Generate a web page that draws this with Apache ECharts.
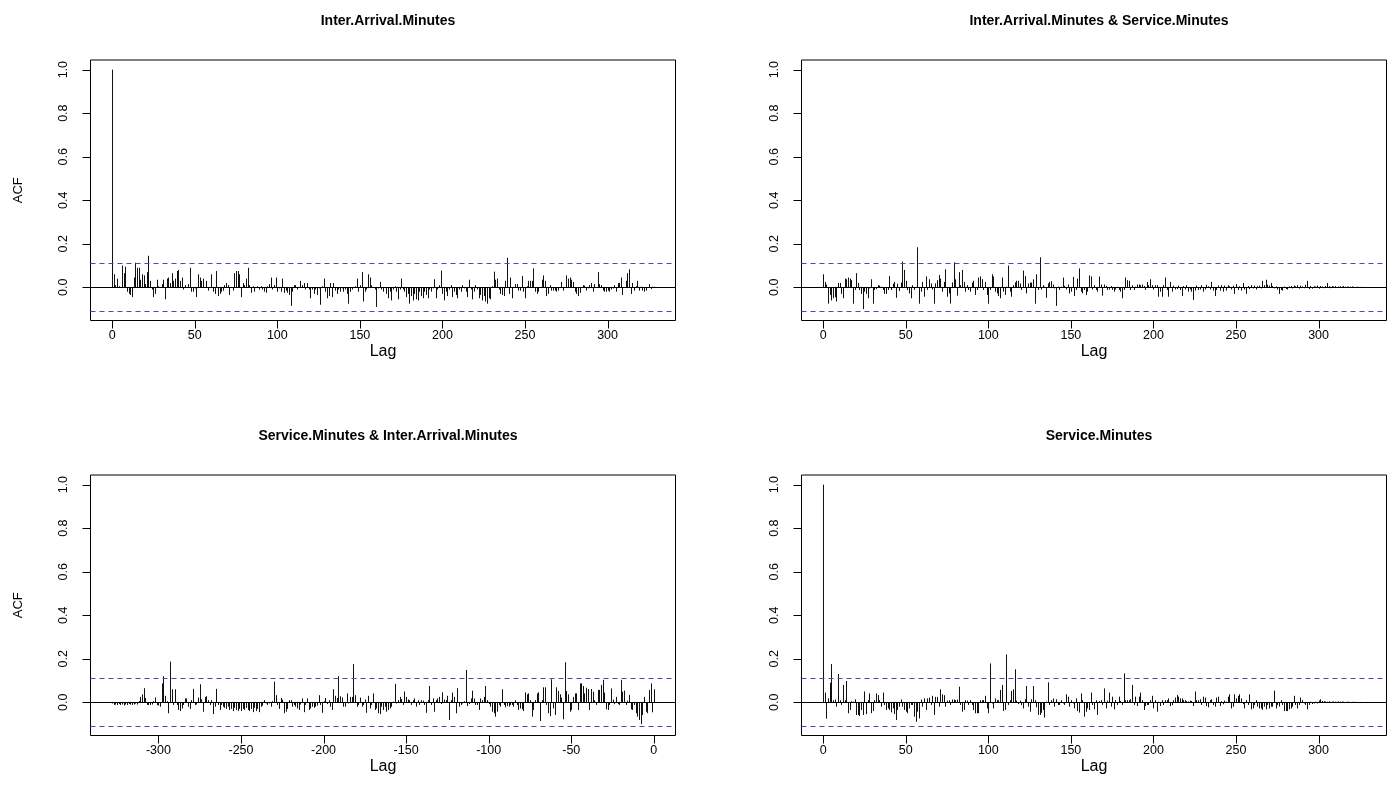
<!DOCTYPE html>
<html>
<head>
<meta charset="utf-8">
<script src="https://cdn.jsdelivr.net/npm/echarts@6/dist/echarts.min.js"></script>
<style>
  html, body { margin: 0; padding: 0; background: #fff; }
  #chart { width: 1393px; height: 804px; }
</style>
</head>
<body>
<div id="chart"></div>
<script>
// panel titles, in R's plot.acf order (row by row)
const panelTitles = [
  "Inter.Arrival.Minutes",
  "Inter.Arrival.Minutes & Service.Minutes",
  "Service.Minutes & Inter.Arrival.Minutes",
  "Service.Minutes"
];

const ciLimit = 0.108;           // 1.96 / sqrt(n)
const yTickValues = [0, 0.2, 0.4, 0.6, 0.8, 1.0];
const posLagTicks = [0, 50, 100, 150, 200, 250, 300];
const negLagTicks = [-300, -250, -200, -150, -100, -50, 0];

// ACF of Inter.Arrival.Minutes, lags 0..328
const acfInter = [
  1.0, 0.06, 0.01, 0.04, 0.005, 0.0, 0.1, 0.065, 0.095, -0.02,
  -0.03, -0.035, -0.045, 0.045, 0.113, 0.09, 0.09, 0.035, 0.06, 0.055,
  0.015, 0.07, 0.145, 0.03, -0.01, -0.045, -0.03, 0.035, 0.005, 0.0,
  0.015, 0.035, -0.055, 0.04, 0.045, 0.02, 0.065, 0.03, 0.04, 0.075,
  0.08, 0.03, 0.045, -0.01, 0.01, 0.0, 0.015, 0.09, -0.02, -0.02,
  -0.005, -0.045, 0.06, 0.045, 0.03, 0.04, 0.0, 0.03, -0.015, 0.0,
  0.06, -0.02, -0.03, 0.075, -0.04, -0.03, -0.02, -0.015, 0.01, 0.02,
  0.01, -0.035, 0.0, -0.015, 0.065, 0.075, 0.075, 0.06, -0.045, 0.02,
  0.01, 0.04, 0.09, 0.01, -0.025, 0.005, -0.02, 0.0, 0.005, -0.01,
  0.005, -0.01, -0.02, -0.025, 0.005, 0.015, 0.045, -0.01, 0.01, 0.045,
  -0.02, -0.005, -0.02, 0.04, -0.025, -0.015, -0.025, -0.035, -0.085, -0.02,
  0.01, 0.01, -0.01, 0.0, 0.03, 0.01, 0.02, -0.01, 0.02, -0.01,
  -0.05, -0.01, -0.03, -0.01, -0.035, -0.005, -0.08, 0.005, 0.04, -0.02,
  -0.05, -0.04, 0.02, -0.045, 0.02, -0.015, -0.03, -0.01, -0.02, -0.005,
  -0.02, -0.01, -0.03, -0.075, -0.02, -0.01, 0.0, 0.005, 0.04, -0.02,
  0.01, 0.07, -0.065, -0.02, -0.01, 0.06, 0.045, 0.01, 0.0, -0.01,
  -0.09, -0.005, 0.025, -0.01, -0.02, 0.0, -0.03, -0.05, -0.02, -0.06,
  -0.01, 0.005, -0.02, -0.055, -0.01, 0.04, -0.01, -0.02, -0.045, -0.03,
  -0.075, -0.04, -0.06, -0.03, -0.055, -0.06, -0.02, -0.04, -0.05, -0.02,
  -0.035, -0.05, -0.01, -0.02, -0.005, 0.037, -0.05, -0.01, 0.01, 0.077,
  -0.03, -0.06, -0.02, -0.04, -0.01, 0.01, -0.045, -0.02, -0.035, -0.05,
  -0.01, -0.02, 0.01, -0.005, -0.02, -0.045, 0.035, -0.01, -0.055, -0.02,
  0.01, -0.01, -0.05, -0.035, -0.06, -0.04, -0.065, -0.075, -0.05, -0.055,
  0.005, 0.072, 0.035, 0.04, -0.01, -0.03, -0.035, -0.04, 0.03, 0.136,
  -0.03, 0.045, -0.05, 0.0, 0.015, 0.015, -0.015, -0.015, 0.052, -0.02,
  -0.05, 0.005, 0.03, 0.03, 0.03, 0.087, -0.02, -0.03, -0.02, 0.0,
  0.035, 0.055, 0.03, -0.04, -0.03, 0.01, -0.015, -0.015, -0.015, -0.02,
  -0.015, 0.0, 0.025, -0.015, 0.0, 0.055, 0.04, 0.045, 0.035, 0.025,
  -0.02, -0.03, -0.04, -0.025, 0.0, 0.01, 0.008, -0.015, -0.005, 0.01,
  0.02, -0.02, 0.015, 0.0, 0.07, 0.015, 0.01, -0.015, -0.02, -0.02,
  -0.015, -0.02, -0.01, -0.005, 0.01, -0.02, 0.02, 0.02, 0.045, -0.035,
  0.0, 0.03, 0.065, 0.083, -0.03, 0.02, -0.015, 0.005, 0.03, -0.015,
  0.003, -0.015, -0.02, -0.015, 0.0, 0.015, -0.008, 0.003, 0.003
];

// cross-correlation Inter.Arrival & Service, lags 0..328
const ccfInterService = [
  0.06, 0.025, 0.013, -0.075, -0.035, -0.06, -0.05, -0.045, -0.065, 0.02,
  0.02, -0.03, -0.05, 0.04, 0.037, 0.045, 0.04, 0.033, -0.075, -0.012,
  0.065, 0.02, -0.012, -0.03, -0.1, -0.02, -0.03, -0.05, -0.005, 0.037,
  -0.075, -0.012, -0.008, 0.01, 0.008, 0.003, -0.012, -0.03, -0.03, -0.012,
  0.052, -0.012, 0.017, 0.025, -0.048, 0.017, -0.017, 0.022, 0.118, 0.08,
  0.03, -0.012, -0.028, -0.05, 0.01, -0.012, -0.002, 0.184, -0.075, -0.02,
  0.025, -0.043, 0.05, -0.012, 0.037, 0.018, -0.01, -0.075, 0.018, 0.033,
  0.057, 0.04, -0.02, 0.025, 0.083, -0.043, -0.028, -0.075, 0.023, 0.115,
  0.037, -0.038, 0.07, 0.01, 0.08, 0.025, -0.02, 0.01, -0.012, -0.02,
  0.022, 0.03, -0.035, -0.012, 0.045, 0.05, 0.037, -0.012, 0.025, -0.035,
  -0.075, -0.012, 0.06, 0.05, -0.02, -0.028, -0.04, -0.05, 0.045, -0.02,
  -0.035, 0.003, 0.1, -0.02, -0.043, 0.01, 0.023, 0.03, 0.03, 0.018,
  -0.012, 0.077, 0.052, -0.028, 0.018, 0.022, 0.022, 0.037, -0.075, 0.06,
  -0.012, 0.138, -0.01, 0.01, 0.003, -0.048, 0.018, 0.025, 0.028, 0.013,
  -0.005, -0.085, 0.003, -0.012, 0.003, 0.045, 0.007, -0.01, 0.013, -0.028,
  -0.02, 0.048, -0.04, -0.012, 0.04, 0.087, -0.02, -0.028, -0.012, -0.035,
  -0.02, 0.055, 0.05, -0.01, 0.01, -0.012, -0.02, 0.05, 0.013, -0.038,
  0.013, 0.007, -0.012, -0.01, 0.006, -0.012, -0.02, -0.01, 0.003, -0.012,
  -0.02, -0.05, -0.012, 0.045, 0.033, 0.03, -0.012, 0.01, -0.012, 0.003,
  0.013, 0.013, 0.01, 0.013, 0.006, -0.012, 0.025, 0.01, 0.037, 0.01,
  -0.01, 0.01, 0.01, -0.043, -0.02, -0.043, 0.01, 0.045, -0.012, -0.043,
  0.025, -0.02, 0.008, -0.01, -0.008, 0.008, -0.012, -0.04, 0.006, -0.01,
  0.01, -0.02, -0.01, -0.02, -0.058, -0.015, 0.008, -0.012, -0.01, 0.01,
  -0.02, -0.01, 0.012, 0.005, -0.01, 0.025, -0.015, -0.04, -0.012, 0.008,
  -0.015, 0.01, -0.02, 0.008, -0.015, 0.01, 0.005, -0.01, 0.008, -0.03,
  0.015, -0.012, 0.005, -0.015, 0.02, -0.01, -0.03, 0.006, -0.008, 0.01,
  -0.005, 0.008, -0.01, 0.005, 0.008, -0.005, 0.03, 0.01, 0.035, 0.012,
  0.008, 0.02, 0.006, -0.005, 0.004, -0.01, -0.03, -0.012, -0.015, 0.004,
  -0.008, -0.01, 0.004, 0.006, -0.005, 0.008, 0.005, 0.01, -0.006, 0.008,
  0.004, -0.004, 0.012, 0.03, -0.008, 0.006, -0.006, 0.005, 0.004, 0.008,
  -0.006, 0.006, 0.004, -0.004, 0.006, 0.02, 0.005, -0.004, 0.006, 0.004,
  0.006, -0.003, 0.004, 0.005, 0.003, 0.006, 0.003, 0.004, 0.003, 0.003,
  0.004, 0.003, 0.002, 0.003, 0.002, 0.002, 0.002, 0.001, 0.001
];

// cross-correlation Service & Inter.Arrival, lags -328..0
const ccfServiceInter = [
  -0.005, -0.012, -0.01, -0.012, -0.008, -0.012, -0.01, -0.014, -0.01, -0.012,
  -0.008, -0.01, -0.012, -0.01, -0.006, -0.01, 0.006, 0.025, 0.037, 0.065,
  0.02, -0.012, -0.012, -0.012, -0.01, 0.005, 0.022, -0.012, -0.015, -0.02,
  0.087, 0.12, 0.03, 0.005, -0.05, 0.187, 0.06, -0.012, 0.06, -0.012,
  -0.035, -0.04, -0.028, -0.012, 0.018, 0.018, -0.02, -0.03, 0.01, 0.062,
  -0.012, -0.01, 0.022, 0.083, 0.014, -0.043, 0.025, 0.028, 0.01, -0.012,
  0.01, -0.054, -0.02, 0.062, -0.012, -0.035, -0.012, -0.02, -0.025, -0.03,
  -0.02, -0.035, -0.03, -0.04, -0.025, -0.035, -0.04, -0.03, -0.04, -0.03,
  -0.035, -0.025, -0.035, -0.04, -0.03, -0.045, -0.025, -0.04, -0.03, -0.045,
  -0.02, -0.015, 0.01, -0.005, -0.012, -0.005, -0.02, 0.005, 0.095, 0.033,
  -0.012, -0.03, 0.02, 0.012, -0.05, -0.043, -0.03, 0.01, 0.01, -0.02,
  -0.012, -0.02, -0.028, -0.035, -0.01, 0.018, -0.045, -0.012, 0.018, -0.035,
  -0.028, -0.02, -0.025, -0.02, -0.015, 0.033, -0.012, -0.048, 0.005, 0.02,
  -0.008, 0.01, -0.02, -0.035, 0.06, 0.03, 0.02, 0.12, 0.028, 0.022,
  -0.02, -0.02, 0.041, -0.005, 0.025, 0.025, 0.176, 0.033, -0.02, -0.012,
  0.022, -0.02, -0.012, 0.013, -0.048, 0.03, -0.028, -0.012, 0.041, -0.035,
  -0.028, -0.05, -0.054, -0.02, -0.035, -0.02, -0.043, -0.035, -0.028, -0.02,
  0.003, 0.085, -0.005, 0.01, 0.025, 0.015, -0.012, 0.05, 0.025, 0.013,
  0.01, -0.012, 0.01, 0.018, -0.02, 0.01, -0.012, 0.01, 0.008, -0.012,
  -0.048, 0.01, 0.075, -0.012, 0.018, -0.043, 0.01, 0.018, 0.025, -0.008,
  0.046, 0.013, 0.01, 0.03, -0.081, 0.01, 0.045, 0.025, -0.05, 0.065,
  -0.02, -0.012, -0.005, 0.005, 0.149, -0.017, -0.008, 0.018, 0.054, 0.018,
  -0.012, -0.012, -0.035, 0.018, 0.01, 0.025, 0.075, 0.01, -0.008, -0.02,
  -0.043, -0.05, -0.066, -0.043, -0.012, -0.02, 0.06, -0.012, -0.023, -0.017,
  -0.02, -0.012, -0.012, -0.02, 0.01, -0.012, -0.035, -0.028, -0.032, -0.04,
  0.046, 0.037, 0.041, 0.01, -0.066, -0.035, 0.01, 0.041, 0.046, -0.086,
  0.01, 0.069, 0.069, -0.012, -0.05, -0.063, 0.106, -0.028, -0.058, 0.069,
  0.052, 0.037, 0.022, -0.078, 0.184, 0.052, 0.037, -0.043, -0.035, 0.025,
  0.041, 0.041, -0.035, 0.087, 0.087, 0.075, 0.041, 0.067, 0.061, -0.035,
  0.061, 0.049, 0.01, -0.012, 0.057, 0.057, 0.08, 0.103, 0.045, -0.032,
  -0.035, -0.012, 0.064, 0.013, -0.008, 0.025, -0.008, -0.012, 0.103, 0.049,
  0.054, -0.012, 0.008, 0.034, -0.032, -0.035, -0.012, -0.05, -0.066, -0.081,
  -0.1, -0.058, 0.025, -0.043, -0.05, 0.057, 0.087, -0.046, 0.06
];

// ACF of Service.Minutes, lags 0..328
const acfService = [
  1.0, 0.045, -0.075, 0.018, 0.09, 0.176, 0.01, 0.013, -0.02, 0.13,
  0.01, -0.012, 0.08, 0.01, 0.098, -0.05, -0.035, 0.005, 0.003, 0.014,
  -0.058, -0.058, -0.063, -0.035, -0.058, 0.05, -0.054, 0.01, 0.041, -0.05,
  -0.04, 0.01, 0.041, 0.033, 0.01, -0.02, 0.045, -0.012, -0.035, -0.028,
  -0.035, -0.046, -0.028, -0.054, -0.081, -0.035, -0.02, 0.013, -0.02, -0.035,
  -0.043, -0.05, -0.028, -0.012, -0.012, -0.066, -0.089, -0.043, -0.074, 0.013,
  -0.02, 0.018, -0.035, 0.018, 0.022, -0.012, 0.03, -0.058, 0.025, 0.025,
  -0.02, 0.06, 0.037, 0.033, -0.02, 0.008, 0.01, -0.012, 0.013, 0.013,
  0.01, 0.013, 0.072, -0.012, -0.043, -0.035, 0.01, 0.008, -0.012, 0.01,
  -0.012, -0.035, -0.05, -0.05, -0.05, 0.01, 0.01, 0.01, 0.03, -0.028,
  -0.05, 0.179, -0.005, -0.028, 0.018, 0.01, 0.01, 0.057, 0.08, -0.04,
  -0.035, 0.22, -0.012, 0.01, 0.052, 0.06, 0.152, 0.008, -0.008, 0.008,
  -0.012, -0.028, 0.014, 0.075, -0.02, -0.043, 0.014, 0.075, 0.01, -0.023,
  -0.058, -0.058, -0.048, -0.035, -0.07, 0.003, 0.092, -0.012, 0.01, 0.018,
  -0.02, 0.014, -0.012, -0.012, 0.01, -0.005, -0.012, 0.037, 0.026, -0.02,
  0.01, -0.005, -0.028, 0.018, -0.04, -0.047, 0.041, 0.01, -0.066, -0.043,
  -0.028, -0.035, 0.045, -0.012, -0.032, 0.01, -0.058, 0.006, 0.01, -0.012,
  0.064, -0.028, 0.008, 0.045, -0.02, 0.026, -0.032, 0.01, -0.012, 0.026,
  0.006, -0.012, 0.133, 0.01, 0.01, 0.01, 0.014, 0.08, -0.012, 0.026,
  -0.017, 0.026, 0.045, 0.01, -0.035, -0.017, -0.012, -0.012, 0.01, 0.03,
  -0.028, 0.01, -0.043, 0.003, -0.017, 0.01, -0.012, 0.01, 0.01, 0.018,
  -0.017, -0.012, 0.01, 0.022, 0.034, 0.026, 0.018, 0.018, 0.01, 0.01,
  0.006, 0.004, 0.008, 0.006, -0.017, 0.05, 0.01, 0.01, 0.014, -0.012,
  0.026, 0.022, -0.017, -0.023, 0.01, 0.014, -0.012, -0.02, 0.022, 0.026,
  -0.017, 0.005, -0.009, 0.008, 0.003, 0.026, 0.037, -0.028, -0.02, 0.037,
  0.018, 0.03, 0.037, 0.018, -0.008, -0.028, 0.01, -0.012, 0.037, -0.032,
  -0.028, -0.012, 0.01, -0.02, -0.028, -0.028, -0.035, -0.02, -0.032, -0.012,
  -0.028, -0.02, -0.02, 0.054, -0.028, -0.012, -0.02, 0.01, -0.012, -0.04,
  -0.04, -0.04, -0.032, -0.028, -0.02, 0.03, -0.012, -0.028, -0.012, 0.022,
  0.01, -0.005, -0.012, -0.032, -0.012, 0.003, -0.008, -0.005, 0.003, -0.005,
  0.008, 0.014, 0.006, 0.005, 0.004, 0.003, 0.005, 0.002, 0.003, 0.004,
  0.003, 0.003, 0.004, 0.003, 0.004, 0.003, 0.002, 0.003, 0.003, 0.002,
  0.002, 0.003, 0.002, 0.002, 0.001, 0.002, 0.001, 0.001, 0.001
];

const chart = echarts.init(document.getElementById("chart"));

const font = "Liberation Sans, Arial, Helvetica, sans-serif";
const yMin = -0.1523, yMax = 1.0443;
const lagPad = 13.12, maxLag = 328;
const ciColor = "#4646c8";
const tickLen = 8;

// plot boxes (R's mfrow 2x2 layout)
const boxes = [
  { left: 90.5, top: 60, width: 585, height: 260.5 },
  { left: 801.5, top: 60, width: 585, height: 260.5 },
  { left: 90.5, top: 475, width: 585, height: 260.5 },
  { left: 801.5, top: 475, width: 585, height: 260.5 }
];

const panels = [
  { values: acfInter, start: 0, ticks: posLagTicks },
  { values: ccfInterService, start: 0, ticks: posLagTicks },
  { values: ccfServiceInter, start: -maxLag, ticks: negLagTicks },
  { values: acfService, start: 0, ticks: posLagTicks }
];

const grid = [], xAxis = [], yAxis = [], series = [], title = [];

// outward R-style tick marks, placed through the axes' own scale
function tickSeries(i, data, vertical) {
  return {
    type: "custom", xAxisIndex: i, yAxisIndex: i, clip: false, silent: true,
    data: data,
    renderItem: (params, api) => {
      const pt = api.coord([api.value(0), api.value(1)]);
      if (vertical) {
        const x = Math.round(pt[0]) + 0.5;
        return { type: "line", shape: { x1: x, y1: pt[1], x2: x, y2: pt[1] + tickLen },
                 style: { stroke: "#000", lineWidth: 1 } };
      }
      const y = Math.round(pt[1]) + 0.5;
      return { type: "line", shape: { x1: pt[0] - tickLen, y1: y, x2: pt[0], y2: y },
               style: { stroke: "#000", lineWidth: 1 } };
    }
  };
}

panels.forEach((p, i) => {
  const b = boxes[i];
  grid.push({
    left: b.left, top: b.top, width: b.width, height: b.height,
    show: true, borderColor: "#000", borderWidth: 1
  });
  title.push({
    text: panelTitles[i],
    left: b.left + b.width / 2, top: b.top - 51, textAlign: "center",
    textStyle: { fontFamily: font, fontSize: 14, fontWeight: "bold", color: "#000" }
  });
  const lo = p.start < 0 ? -maxLag - lagPad : -lagPad;
  const hi = p.start < 0 ? lagPad : maxLag + lagPad;
  xAxis.push({
    type: "value", gridIndex: i, min: lo, max: hi,
    name: "Lag", nameLocation: "middle", nameGap: 23,
    nameTextStyle: { fontFamily: font, fontSize: 16, color: "#000" },
    axisLine: { show: false, onZero: false },
    axisTick: { show: false },
    axisLabel: { fontFamily: font, fontSize: 12.5, color: "#000", margin: 9, customValues: p.ticks },
    splitLine: { show: false }
  });
  yAxis.push({
    type: "value", gridIndex: i, min: yMin, max: yMax,
    name: i % 2 === 0 ? "ACF" : "", nameLocation: "middle", nameGap: 66,
    nameTextStyle: { fontFamily: font, fontSize: 13, color: "#000" },
    axisLine: { show: false, onZero: false },
    axisTick: { show: false },
    axisLabel: {
      fontFamily: font, fontSize: 12.5, color: "#000", rotate: 90, margin: 20,
      customValues: yTickValues, formatter: v => v.toFixed(1)
    },
    splitLine: { show: false }
  });
  series.push({
    type: "custom", xAxisIndex: i, yAxisIndex: i, clip: true,
    data: p.values.map((v, k) => [p.start + k, v]),
    renderItem: (params, api) => {
      const base = api.coord([api.value(0), 0]);
      const tip = api.coord([api.value(0), api.value(1)]);
      const x = Math.round(base[0]) + 0.5;
      return {
        type: "line",
        shape: { x1: x, y1: base[1], x2: x, y2: tip[1] },
        style: { stroke: "#111", lineWidth: 1 }
      };
    },
    markLine: {
      silent: true, symbol: "none", animation: false,
      label: { show: false },
      data: [
        { yAxis: 0, lineStyle: { color: "#000", type: "solid", width: 1 } },
        { yAxis: ciLimit, lineStyle: { color: ciColor, type: [5, 4], width: 1.2 } },
        { yAxis: -ciLimit, lineStyle: { color: ciColor, type: [5, 4], width: 1.2 } }
      ]
    }
  });
  series.push(tickSeries(i, p.ticks.map(v => [v, yMin]), true));
  series.push(tickSeries(i, yTickValues.map(v => [lo, v]), false));
});

chart.setOption({
  backgroundColor: "#fff",
  animation: false,
  title: title,
  grid: grid,
  xAxis: xAxis,
  yAxis: yAxis,
  series: series
});

window.addEventListener("resize", () => chart.resize());
</script>
</body>
</html>
